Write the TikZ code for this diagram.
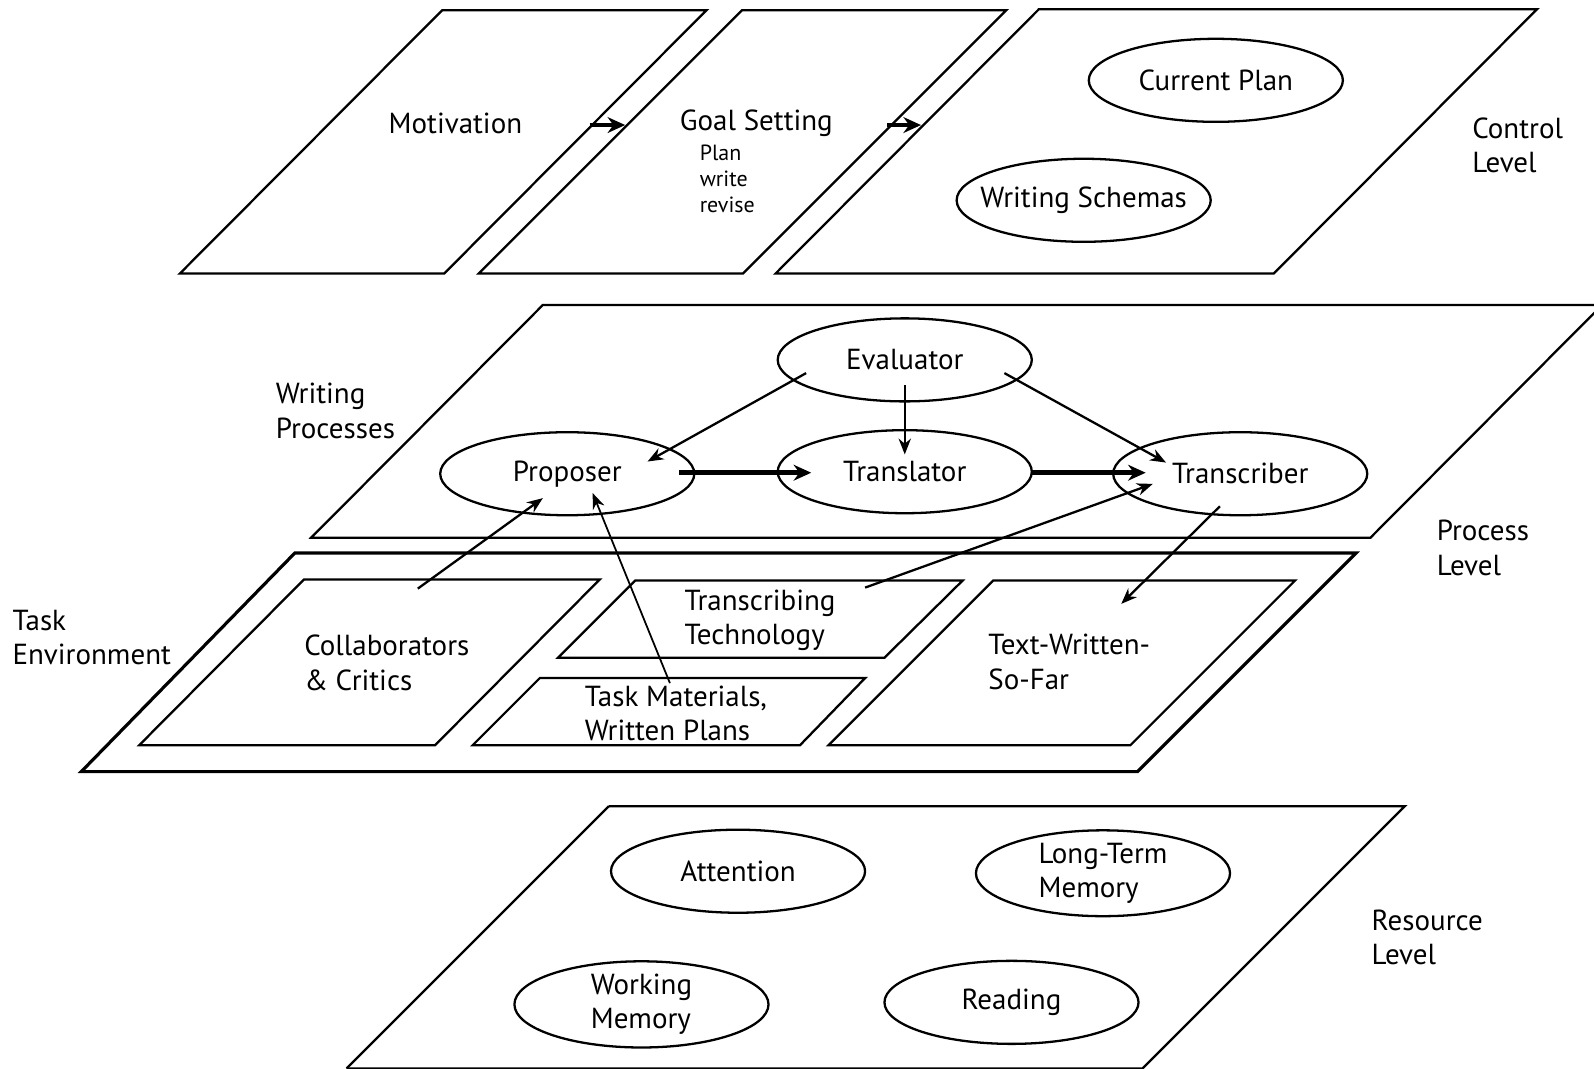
\documentclass[tikz,border=0pt]{standalone}
\usepackage{fontspec}
\setmainfont{PT Sans}
\usetikzlibrary{shapes.geometric,arrows.meta}
\begin{document}
\begin{tikzpicture}[x=0.020332cm,y=-0.020332cm,
  plane/.style={line width=1.3pt,line join=miter},
  outerplane/.style={line width=1.8pt,line join=miter},
  ell/.style={ellipse,draw,line width=1.3pt,minimum width=5.08cm,minimum height=1.66cm,
    inner xsep=-1cm,inner ysep=0pt,
    font=\fontsize{16.5}{19.6}\selectfont,align=center},
  lbl/.style={inner sep=0pt,align=left,font=\fontsize{16.5}{19.6}\selectfont},
  small/.style={inner sep=0pt,align=left,font=\fontsize{12.5}{15}\selectfont},
  arr/.style={-{Stealth[length=9pt,width=7pt]},line width=1.3pt},
  thickarr/.style={-{Stealth[length=10pt,width=9pt]},line width=2.6pt},
  thinarr/.style={-{Stealth[length=9pt,width=7pt]},line width=1pt}]
\useasboundingbox (0,0) rectangle (1568,1051);
% ---------- Control level ----------
\draw[plane] (435,10)--(695,10)--(437,269)--(177,269)--cycle;
\draw[plane] (730,10)--(990,10)--(731,269)--(471,269)--cycle;
\draw[plane] (1022,9)--(1512,9)--(1253,269)--(763,269)--cycle;
\node[lbl] (mot) at (448,121) {Motivation};
\node[lbl] (goal) at (744,121) {Goal Setting};
\node[small,anchor=west] (pwr) at (688,176) {Plan\\write\\revise};
\node[ell] (cp) at (1196,79) {Current Plan};
\node[ell] (ws) at (1066,197) {Writing Schemas};
\node[lbl,anchor=west] (ctl) at (1448,143) {Control\\Level};
\coordinate (p3in) at (906,123);
\draw[thickarr] ([shift={(132,2)}]mot.center) -- ([shift={(-129,2)}]goal.center);
\draw[thickarr] ([shift={(129,2)}]goal.center) -- (p3in);
% ---------- Process level ----------
\draw[plane] (534,300)--(1576,300)--(1348,529)--(306,529)--cycle;
\node[ell] (ev) at (890,354) {Evaluator};
\node[ell] (prop) at (558,466) {Proposer};
\node[ell] (tran) at (890,464) {Translator};
\node[ell] (tcr) at (1220,466) {Transcriber};
\node[lbl,anchor=west] (wp) at (271,404) {Writing\\Processes};
\node[lbl,anchor=west] (pl) at (1413,539) {Process\\Level};
\draw[arr] ([shift={(-97,13)}]ev.center) -- ([shift={(79,-12)}]prop.center);
\draw[arr] ([shift={(0,25)}]ev.center) -- ([shift={(0,-17)}]tran.center);
\draw[arr] ([shift={(98,13)}]ev.center) -- ([shift={(-73,-11)}]tcr.center);
\draw[thickarr] ([shift={(110,-1)}]prop.center) -- ([shift={(-92,1)}]tran.center);
\draw[thickarr] ([shift={(125,1)}]tran.center) -- ([shift={(-93,-1)}]tcr.center);
% ---------- Task environment ----------
\draw[outerplane] (290,544)--(1334,544)--(1119,759)--(80,759)--cycle;
\draw[plane] (299,570)--(590,570)--(428,733)--(137,733)--cycle;
\draw[plane] (625,571)--(947,571)--(870,647)--(549,647)--cycle;
\draw[plane] (531,667)--(851,667)--(787,733)--(465,733)--cycle;
\draw[plane] (977,571)--(1274,571)--(1112,733)--(815,733)--cycle;
\node[lbl,anchor=west] (te) at (12,627) {Task\\Environment};
\node[lbl,anchor=west] (coll) at (299,652) {Collaborators\\\& Critics};
\node[lbl,anchor=west] (ttech) at (673,610) {Transcribing\\Technology};
\node[lbl,anchor=west] (tmat) at (575,702) {Task Materials,\\Written Plans};
\node[lbl,anchor=west] (tw) at (972,651) {Text-Written-\\So-Far};
\draw[arr] ([shift={(112,-73)}]coll.west) -- ([shift={(-24,24)}]prop.center);
\draw[thinarr] ([shift={(84,-30)}]tmat.west) -- ([shift={(25,19)}]prop.center);
\draw[arr] ([shift={(178,-32)}]ttech.west) -- ([shift={(-86,10)}]tcr.center);
\draw[arr] ([shift={(-20,32)}]tcr.center) -- ([shift={(131,-57)}]tw.west);
% ---------- Resource level ----------
\draw[plane] (599,793)--(1382,793)--(1124,1051)--(341,1051);
\draw[plane] (341,1051)--(599,793);
\node[ell] (att) at (726,857) {Attention};
\node[ell,align=left] (ltm) at (1085,859) {Long-Term\\Memory};
\node[ell,align=left] (wm) at (631,988) {Working\\Memory};
\node[ell] (read) at (995,986) {Reading};
\node[lbl,anchor=west] (rl) at (1349,922) {Resource\\Level};
\end{tikzpicture}
\end{document}
